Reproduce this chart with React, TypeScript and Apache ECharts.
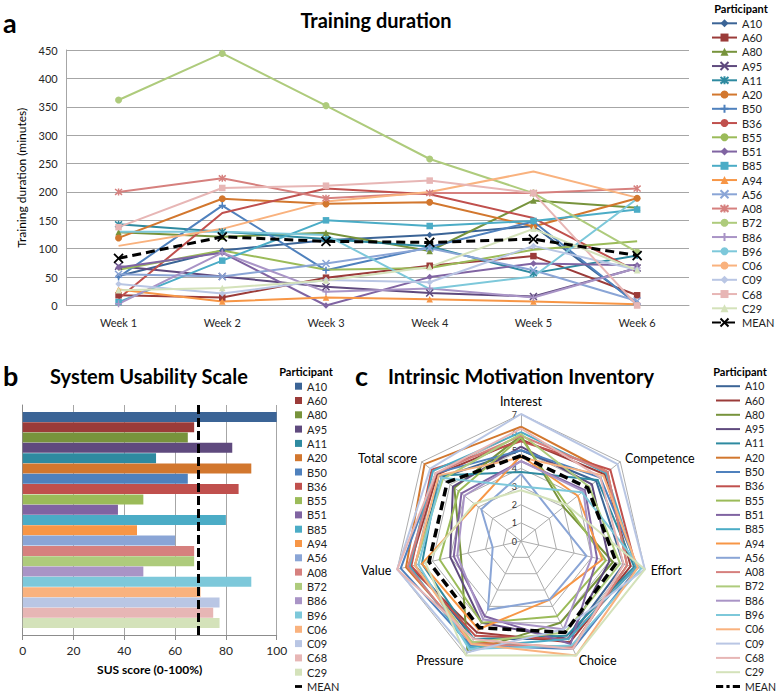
import React, { useEffect, useRef } from 'react';
import * as echarts from 'echarts';

const weeks = ['Week 1', 'Week 2', 'Week 3', 'Week 4', 'Week 5', 'Week 6'];
const participants = ['A10', 'A60', 'A80', 'A95', 'A11', 'A20', 'B50', 'B36', 'B55', 'B51', 'B85', 'A94', 'A56', 'A08', 'B72', 'B86', 'B96', 'C06', 'C09', 'C68', 'C29'];
const yTicksTraining = [0, 450, 50];

// Training duration (minutes), weeks 1-6
const trA10 = [52, 97, 115, 124, 140, 4];
const trA60 = [18, 14, 49, 70, 87, 18];
const trA80 = [129, 121, 128, 96, 185, 172];
const trA95 = [69, 51, 33, 22, 16, 66];
const trA11 = [143, 130, 117, 104, 57, 88];
const trA20 = [119, 188, 179, 182, 139, 189];
const trB50 = [50, 176, 62, 103, 148, 2];
const trB36 = [12, 163, 206, 196, 154, 60];
const trB55 = [63, 97, 63, 66, 98, 113];
const trB51 = [67, 93, 0, 50, 74, 71];
const trB85 = [6, 79, 150, 140, 149, 169];
const trA94 = [28, 7, 14, 11, 7, 2];
const trA56 = [55, 51, 74, 101, 62, 8];
const trA08 = [200, 224, 189, 198, 198, 206];
const trB72 = [362, 444, 352, 258, 198, 94];
const trB86 = [3, 93, 24, 30, 14, 66];
const trB96 = [130, 130, 124, 29, 51, 188];
const trC06 = [105, 135, 183, 200, 236, 190];
const trC09 = [38, 21, 45, 41, 105, 63];
const trC68 = [138, 207, 211, 220, 198, 0];
const trC29 = [27, 31, 44, 68, 135, 62];
const trMEAN = [83, 121, 113, 111, 117, 88];
const trainingRows = [trA10, trA60, trA80, trA95, trA11, trA20, trB50, trB36, trB55, trB51, trB85, trA94, trA56, trA08, trB72, trB86, trB96, trC06, trC09, trC68, trC29];

// System Usability Scale scores (0-100)
const susScores = [100, 67.5, 65, 82.5, 52.5, 90, 65, 85, 47.5, 37.5, 80, 45, 60, 67.5, 67.5, 47.5, 90, 70, 77.5, 75, 77.5];
const susTicks = [0, 100, 20];

// Intrinsic Motivation Inventory: Interest, Competence, Effort, Choice, Pressure, Value, Total score
const imiDimensions = ['Interest', 'Competence', 'Effort', 'Choice', 'Pressure', 'Value', 'Total score'];
const imiA10 = [5.0, 5.3, 5.8, 6.0, 6.0, 6.0, 5.6];
const imiA60 = [5.6, 5.9, 6.2, 6.2, 5.6, 6.3, 5.9];
const imiA80 = [5.8, 3.0, 5.2, 5.0, 6.8, 3.4, 4.7];
const imiA95 = [5.2, 5.0, 5.0, 6.0, 5.0, 4.0, 4.8];
const imiA11 = [3.8, 5.4, 6.4, 5.8, 6.0, 5.6, 5.8];
const imiA20 = [6.3, 6.1, 6.0, 6.5, 6.2, 6.5, 6.8];
const imiB50 = [5.0, 5.6, 6.6, 6.6, 6.4, 6.8, 6.0];
const imiB36 = [5.5, 6.3, 6.5, 6.0, 5.8, 6.2, 6.3];
const imiB55 = [5.7, 3.2, 4.8, 4.6, 5.0, 4.6, 4.4];
const imiB51 = [4.4, 4.5, 4.3, 6.3, 4.6, 3.8, 4.2];
const imiB85 = [6.0, 6.0, 6.5, 6.0, 6.5, 6.3, 6.2];
const imiA94 = [4.7, 4.0, 4.6, 3.6, 5.4, 5.6, 3.2];
const imiA56 = [3.7, 2.3, 3.7, 3.6, 4.2, 1.6, 2.8];
const imiA08 = [5.8, 6.1, 6.0, 6.5, 6.3, 6.4, 6.0];
const imiB72 = [5.9, 4.8, 5.6, 5.6, 6.2, 6.0, 5.5];
const imiB86 = [4.4, 4.4, 4.0, 5.4, 4.8, 3.6, 4.0];
const imiB96 = [3.0, 4.3, 6.8, 6.4, 6.6, 5.8, 5.6];
const imiC06 = [4.6, 5.8, 6.6, 7.0, 6.3, 6.0, 5.8];
const imiC09 = [7.0, 6.8, 7.0, 5.4, 6.8, 7.0, 6.4];
const imiC68 = [6.2, 5.6, 5.8, 6.6, 6.0, 7.0, 6.0];
const imiC29 = [2.8, 3.2, 7.0, 7.0, 7.0, 5.4, 3.3];
const imiMEAN = [4.7, 4.7, 5.4, 5.6, 5.3, 5.2, 5.2];
const imiRows = [imiA10, imiA60, imiA80, imiA95, imiA11, imiA20, imiB50, imiB36, imiB55, imiB51, imiB85, imiA94, imiA56, imiA08, imiB72, imiB86, imiB96, imiC06, imiC09, imiC68, imiC29];

// styles
const palette = ['#3B6496', '#9B3B39', '#77933C', '#5F4A7E', '#2E8AA0', '#D2772E', '#4F81BD', '#C0504D', '#9BBB59', '#8064A2', '#4BACC6', '#F79646', '#8AA5D6', '#D6807E', '#AECB7C', '#A994C6', '#7DC8DA', '#F9B27E', '#B9C6E4', '#E7B6B5', '#D4E2BA'];
const X_SYM = 'path://M0,0L10,10M10,0L0,10';
const STAR_SYM = 'path://M1,1L11,11M11,1L1,11M6,0L6,12';
const PLUS_SYM = 'path://M6,0L6,12M0,6L12,6';
const markers = ['diamond', 'rect', 'triangle', X_SYM, STAR_SYM, 'circle', PLUS_SYM, 'none', 'none', 'diamond', 'rect', 'triangle', X_SYM, STAR_SYM, 'circle', PLUS_SYM, 'none', 'none', 'diamond', 'rect', 'triangle'];
const FONT = 'Lato, "Open Sans", sans-serif';

// display order of radar axes (ECharts goes counter-clockwise)
const radarOrder = [0, 6, 5, 4, 3, 2, 1];

function buildOption() {
  const strip = (n: string) => n.slice(2);
  const susMean = susScores.reduce((a, b) => a + b, 0) / susScores.length;

  const seriesA: any[] = participants.map((p, i) => {
    const m = markers[i];
    const stroke = m.startsWith('path://');
    return {
      name: 'a:' + p, type: 'line', xAxisIndex: 0, yAxisIndex: 0,
      data: trainingRows[i], symbol: m, symbolSize: stroke ? 7 : (m === 'circle' ? 7 : 6.5),
      lineStyle: { width: 2, color: palette[i] },
      itemStyle: { color: palette[i], borderColor: palette[i], borderWidth: stroke ? 1.5 : 0 },
    };
  });
  seriesA.push({
    name: 'a:MEAN', type: 'line', xAxisIndex: 0, yAxisIndex: 0, data: trMEAN,
    symbol: X_SYM, symbolSize: 9, z: 5,
    lineStyle: { width: 3, color: '#000', type: [9, 5] },
    itemStyle: { color: '#000', borderColor: '#000', borderWidth: 1.8 },
  });

  const seriesB: any[] = participants.map((p, i) => ({
    name: 'b:' + p, type: 'bar', xAxisIndex: 1, yAxisIndex: 1,
    data: [susScores[i]], barGap: '3%', barCategoryGap: '6%',
    itemStyle: { color: palette[i] },
    markLine: i === 0 ? {
      silent: true, symbol: 'none', label: { show: false },
      lineStyle: { color: '#000', width: 3, type: [9, 4] },
      data: [{ xAxis: susMean }],
    } : undefined,
  }));
  seriesB.push({ name: 'b:MEAN', type: 'line', xAxisIndex: 1, yAxisIndex: 1, data: [], itemStyle: { color: '#000' }, lineStyle: { color: '#000' } });

  const seriesC: any[] = participants.map((p, i) => ({
    name: 'c:' + p, type: 'radar', radarIndex: 0, symbol: 'none',
    lineStyle: { width: 2, color: palette[i] }, itemStyle: { color: palette[i] },
    data: [{ value: radarOrder.map((k) => imiRows[i][k]) }],
  }));
  seriesC.push({
    name: 'c:MEAN', type: 'radar', radarIndex: 0, symbol: 'none', z: 5,
    lineStyle: { width: 3.5, color: '#000', type: [9, 5] }, itemStyle: { color: '#000' },
    data: [{ value: radarOrder.map((k) => imiMEAN[k]) }],
  });

  const legendText = { fontSize: 11, color: '#222', fontFamily: FONT };

  return {
    animation: false,
    textStyle: { fontFamily: FONT },
    graphic: [
      { type: 'text', x: 3, y: 22, style: { text: 'a', font: `bold 27px ${FONT}`, fill: '#000', verticalAlign: 'middle' } },
      { type: 'text', x: 376, y: 20, style: { text: 'Training duration', font: `bold 20px ${FONT}`, fill: '#000', align: 'center', verticalAlign: 'middle' } },
      { type: 'text', x: 741, y: 8, style: { text: 'Participant', font: `bold 11px ${FONT}`, fill: '#000', align: 'center', verticalAlign: 'middle' } },
      { type: 'text', x: 3, y: 375, style: { text: 'b', font: `bold 27px ${FONT}`, fill: '#000', verticalAlign: 'middle' } },
      { type: 'text', x: 149, y: 376, style: { text: 'System Usability Scale', font: `bold 20px ${FONT}`, fill: '#000', align: 'center', verticalAlign: 'middle' } },
      { type: 'text', x: 306, y: 371, style: { text: 'Participant', font: `bold 11px ${FONT}`, fill: '#000', align: 'center', verticalAlign: 'middle' } },
      { type: 'text', x: 355, y: 375, style: { text: 'c', font: `bold 27px ${FONT}`, fill: '#000', verticalAlign: 'middle' } },
      { type: 'text', x: 521, y: 376, style: { text: 'Intrinsic Motivation Inventory', font: `bold 20px ${FONT}`, fill: '#000', align: 'center', verticalAlign: 'middle' } },
      { type: 'text', x: 740, y: 371, style: { text: 'Participant', font: `bold 11px ${FONT}`, fill: '#000', align: 'center', verticalAlign: 'middle' } },
    ],
    legend: [
      {
        orient: 'vertical', left: 711, top: 17.8, padding: 0, height: 330, itemWidth: 25, itemHeight: 10, itemGap: 3.25,
        data: participants.map((p) => 'a:' + p).concat(['a:MEAN']),
        formatter: strip, textStyle: legendText, selectedMode: false,
      },
      {
        orient: 'vertical', left: 295, top: 380.7, padding: 0, height: 312, itemWidth: 7, itemHeight: 7, itemGap: 3.3, icon: 'rect',
        data: (participants.map((p) => 'b:' + p) as any[]).concat([{ name: 'b:MEAN', icon: 'path://M0,0H10V4H0Z' }]),
        formatter: strip, textStyle: legendText, selectedMode: false,
      },
      {
        orient: 'vertical', left: 716, top: 380.7, padding: 0, height: 312, itemWidth: 24, itemHeight: 10, itemGap: 3.3, icon: 'path://M0,4H30V6.5H0Z',
        data: (participants.map((p) => 'c:' + p) as any[]).concat([{ name: 'c:MEAN', icon: 'path://M0,3H9V7H0ZM13,3H17V7H13ZM21,3H30V7H21Z' }]),
        formatter: strip, textStyle: { ...legendText, fontSize: 10.5 }, selectedMode: false,
      },
    ],
    grid: [
      { left: 66.7, top: 50, right: 89, bottom: 387.5 },
      { left: 22.7, top: 405, right: 501.3, bottom: 58 },
    ],
    xAxis: [
      {
        type: 'category', gridIndex: 0, data: weeks, boundaryGap: true,
        axisLine: { lineStyle: { color: '#A6A6A6' } }, axisTick: { show: false },
        axisLabel: { fontSize: 11, color: '#262626', margin: 11 },
      },
      {
        type: 'value', gridIndex: 1, min: susTicks[0], max: susTicks[1], interval: susTicks[2],
        axisLine: { show: true, lineStyle: { color: '#8C8C8C' } }, axisTick: { show: true, length: 5, lineStyle: { color: '#8C8C8C' } },
        splitLine: { show: true, lineStyle: { color: '#A6A6A6' } },
        axisLabel: { fontSize: 12, color: '#262626', margin: 9 },
        name: 'SUS score (0-100%)', nameLocation: 'middle', nameGap: 28,
        nameTextStyle: { fontSize: 12, fontWeight: 'bold', color: '#000' },
      },
    ],
    yAxis: [
      {
        type: 'value', gridIndex: 0, min: yTicksTraining[0], max: yTicksTraining[1], interval: yTicksTraining[2],
        axisLine: { show: true, lineStyle: { color: '#A6A6A6' } }, axisTick: { show: false },
        splitLine: { lineStyle: { color: '#A6A6A6' } },
        axisLabel: { fontSize: 11, color: '#262626', margin: 9 },
        name: 'Training duration (minutes)', nameLocation: 'middle', nameGap: 38, nameRotate: 90,
        nameTextStyle: { fontSize: 12, color: '#000' },
      },
      {
        type: 'category', gridIndex: 1, data: ['SUS'],
        axisLine: { show: true, lineStyle: { color: '#8C8C8C' } }, axisTick: { show: false },
        axisLabel: { show: false },
      },
    ],
    radar: {
      center: [521, 541], radius: 127, startAngle: 90, splitNumber: 7, shape: 'polygon',
      indicator: radarOrder.map((k, idx) => idx === 0
        ? { name: imiDimensions[k], min: 0, max: 7, axisLabel: { show: true, fontSize: 9, color: '#333', margin: 4, showMinLabel: true, showMaxLabel: true } }
        : { name: imiDimensions[k], min: 0, max: 7 }),
      nameGap: 6,
      axisName: { color: '#000', fontSize: 12.5, fontFamily: FONT },
      splitLine: { lineStyle: { color: '#ADADAD', width: 1 } },
      splitArea: { show: false },
      axisLine: { lineStyle: { color: '#ADADAD' } },
      axisTick: { show: false },
      axisLabel: { show: false },
    },
    series: [...seriesA, ...seriesB, ...seriesC],
  };
}

export default function App() {
  const ref = useRef<HTMLDivElement>(null);
  useEffect(() => {
    if (!ref.current) return;
    const chart = echarts.init(ref.current, undefined, { renderer: 'svg' });
    chart.setOption(buildOption() as any);
    return () => chart.dispose();
  }, []);
  return <div ref={ref} style={{ position: 'absolute', left: 0, top: 0, width: 778, height: 693, background: '#fff' }} />;
}
